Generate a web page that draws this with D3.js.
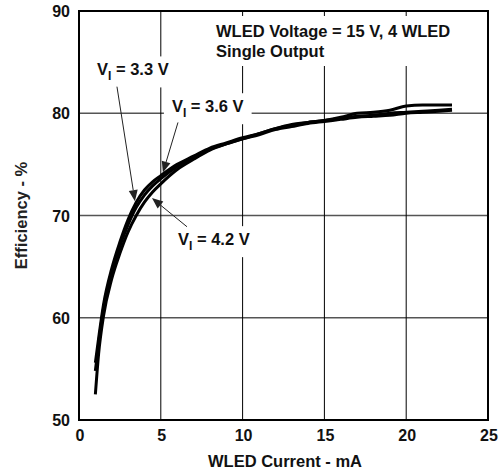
<!DOCTYPE html>
<html lang="en">
<head>
<meta charset="UTF-8">
<title>Efficiency vs WLED Current</title>
<script src="https://d3js.org/d3.v7.min.js"></script>
<style>
    html, body { margin: 0; padding: 0; background: #fff; }
    svg { display: block; font-family: 'Liberation Sans', Arial, sans-serif; font-weight: bold; }
</style>
</head>
<body>
<svg id="chart" width="500" height="475"></svg>
<script>
// ========================================================================
// Data
// ========================================================================
const current = [1, 1.2, 1.5, 2, 2.5, 3, 3.5, 4, 4.5, 5, 6, 7, 8, 9, 10, 11, 12, 13, 14, 15, 16, 17, 18, 19, 20, 21, 22, 22.8];

const eff33 = [55.6, 58.0, 61.3, 64.8, 67.4, 69.6, 71.3, 72.5, 73.3, 73.9, 75.0, 75.8, 76.6, 77.1, 77.6, 78.0, 78.5, 78.8, 79.1, 79.3, 79.5, 79.7, 79.8, 80.0, 80.1, 80.2, 80.3, 80.4];
const eff36 = [54.8, 57.5, 60.9, 64.4, 67.0, 69.1, 70.8, 72.0, 72.9, 73.6, 74.8, 75.7, 76.5, 77.0, 77.5, 77.9, 78.4, 78.7, 79.0, 79.2, 79.4, 79.6, 79.7, 79.8, 80.0, 80.1, 80.2, 80.3];
const eff42 = [52.5, 56.5, 60.2, 63.8, 66.3, 68.4, 70.0, 71.3, 72.3, 73.1, 74.5, 75.5, 76.4, 77.0, 77.5, 78.0, 78.5, 78.9, 79.1, 79.3, 79.6, 80.0, 80.1, 80.3, 80.7, 80.8, 80.8, 80.8];

const xTicks = [0, 5, 10, 15, 20, 25];
const yTicks = [50, 60, 70, 80, 90];

const titleLines = ["WLED Voltage = 15 V, 4 WLED", "Single Output"];
const xTitle = "WLED Current - mA";
const yTitle = "Efficiency - %";

// labels: text value, label anchor and arrow (from -> tip), all in data units
const callouts = [
    { volts: "3.3", at: [1.1, 83.7], from: [2.32, 82.6], tip: [3.42, 71.4] },
    { volts: "3.6", at: [5.68, 80.1], from: [6.05, 79.1], tip: [5.13, 74.2] },
    { volts: "4.2", at: [6.05, 67.1], from: [6.6, 68.9], tip: [4.46, 71.7] }
];

// ========================================================================
// Layout
// ========================================================================
const plot = { left: 79, right: 488, top: 11, bottom: 420 };

const x = d3.scaleLinear().domain([0, 25]).range([plot.left, plot.right]);
const y = d3.scaleLinear().domain([50, 90]).range([plot.bottom, plot.top]);

const svg = d3.select('#chart');

// ========================================================================
// Grid
// ========================================================================
const grid = svg.append('g');

grid.selectAll('line.h').data(yTicks.slice(1, -1)).join('line')
    .attr('class', 'h')
    .attr('x1', plot.left).attr('x2', plot.right)
    .attr('y1', d => y(d)).attr('y2', d => y(d))
    .attr('stroke', '#555').attr('stroke-width', 1.5);

grid.selectAll('line.v').data(xTicks.slice(1, -1)).join('line')
    .attr('class', 'v')
    .attr('x1', d => x(d)).attr('x2', d => x(d))
    .attr('y1', plot.top).attr('y2', plot.bottom)
    .attr('stroke', '#000').attr('stroke-width', 1);

// ========================================================================
// Curves
// ========================================================================
const line = d3.line()
    .x(d => x(d[0]))
    .y(d => y(d[1]))
    .curve(d3.curveMonotoneX);

[eff33, eff36, eff42].forEach(series => {
    svg.append('path')
        .datum(current.map((c, i) => [c, series[i]]))
        .attr('d', line)
        .attr('fill', 'none')
        .attr('stroke', '#000')
        .attr('stroke-width', 3)
        .attr('stroke-linejoin', 'round');
});

// ========================================================================
// Labels with white backing (they break the grid lines)
// ========================================================================
const addBacking = (textSel, padX, padY) => {
    const b = textSel.node().getBBox();
    svg.insert('rect', 'path')
        .attr('x', b.x - padX).attr('y', b.y - padY)
        .attr('width', b.width + 2 * padX).attr('height', b.height + 2 * padY)
        .attr('fill', '#fff');
};

const title = svg.append('text')
    .attr('font-size', 16.5)
    .attr('fill', '#111');
title.selectAll('tspan').data(titleLines).join('tspan')
    .attr('x', 216)
    .attr('y', (d, i) => 37 + i * 20)
    .text(d => d);
addBacking(title, 8, 6);

callouts.forEach(c => {
    const t = svg.append('text')
        .attr('x', x(c.at[0])).attr('y', y(c.at[1]))
        .attr('font-size', 16.5)
        .attr('fill', '#111');
    t.append('tspan').text('V');
    t.append('tspan').attr('font-size', 12).attr('dy', 5).text('I');
    t.append('tspan').attr('dy', -5).text(` = ${c.volts} V`);
    addBacking(t, 8, 4);

    // arrow shaft and filled head
    const x0 = x(c.from[0]), y0 = y(c.from[1]);
    const x1 = x(c.tip[0]), y1 = y(c.tip[1]);
    const ang = Math.atan2(y1 - y0, x1 - x0);
    const len = 11, half = 4.5;
    const bx = x1 - len * Math.cos(ang), by = y1 - len * Math.sin(ang);
    svg.append('line')
        .attr('x1', x0).attr('y1', y0).attr('x2', bx).attr('y2', by)
        .attr('stroke', '#222').attr('stroke-width', 1);
    svg.append('polygon')
        .attr('points', [
            [x1, y1],
            [bx + half * Math.sin(ang), by - half * Math.cos(ang)],
            [bx - half * Math.sin(ang), by + half * Math.cos(ang)]
        ].map(p => p.join(',')).join(' '))
        .attr('fill', '#222');
});

// ========================================================================
// Frame, ticks, titles
// ========================================================================
svg.append('rect')
    .attr('x', plot.left).attr('y', plot.top)
    .attr('width', plot.right - plot.left).attr('height', plot.bottom - plot.top)
    .attr('fill', 'none').attr('stroke', '#000').attr('stroke-width', 2);

svg.selectAll('text.yt').data(yTicks).join('text')
    .attr('class', 'yt')
    .attr('x', 70).attr('y', d => y(d) + 6)
    .attr('text-anchor', 'end')
    .attr('font-size', 16)
    .attr('fill', '#111')
    .text(d => d);

svg.selectAll('text.xt').data(xTicks).join('text')
    .attr('class', 'xt')
    .attr('x', d => x(d) + 1).attr('y', 441)
    .attr('text-anchor', 'middle')
    .attr('font-size', 16)
    .attr('fill', '#111')
    .text(d => d);

svg.append('text')
    .attr('x', 285).attr('y', 467)
    .attr('text-anchor', 'middle')
    .attr('font-size', 16.5)
    .attr('fill', '#111')
    .text(xTitle);

svg.append('text')
    .attr('transform', `translate(27, ${(plot.top + plot.bottom) / 2}) rotate(-90)`)
    .attr('text-anchor', 'middle')
    .attr('font-size', 16.5)
    .attr('fill', '#222')
    .text(yTitle);
</script>
</body>
</html>
